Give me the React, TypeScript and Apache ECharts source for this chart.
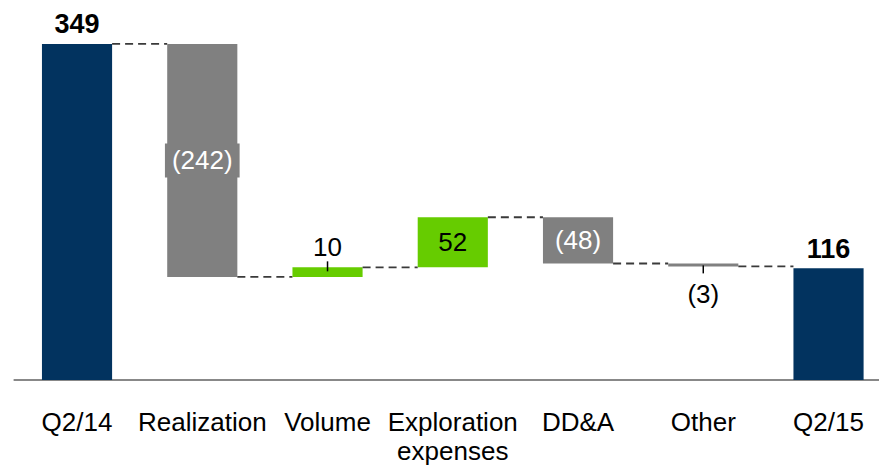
import React, { useEffect, useRef } from "react";
import * as echarts from "echarts";

// Operating result bridge, Q2/14 to Q2/15
const categories = ["Q2/14", "Realization", "Volume", "Exploration\nexpenses", "DD&A", "Other", "Q2/15"];
const values = [349, -242, 10, 52, -48, -3, 116];
const isTotal = [true, false, false, false, false, false, true];

const FONT = "'Liberation Sans', Arial, sans-serif";
const NAVY = "#02335F";
const GREEN = "#66CC00";
const GREY = "#808080";

// Build [index, low, high, end level] rows from the deltas
function buildRows() {
  let run = 0;
  return values.map((v, i) => {
    if (isTotal[i]) {
      run = v;
      return [i, 0, v, v];
    }
    const start = run;
    run = run + v;
    return [i, Math.min(start, run), Math.max(start, run), run];
  });
}

function fmt(v: number) {
  return v < 0 ? `(${Math.abs(v)})` : String(v);
}

export default function App() {
  const ref = useRef<HTMLDivElement>(null);

  useEffect(() => {
    if (!ref.current) return;
    const chart = echarts.init(ref.current, undefined, { renderer: "svg" });
    const rows = buildRows();

    const renderBar = (params: any, api: any) => {
      const i = params.dataIndex;
      const lo = api.value(1) as number;
      const hi = api.value(2) as number;
      const v = values[i];
      const slot = api.size([1, 0])[0];
      const w = slot * 0.56;
      const pTop = api.coord([i, hi]);
      const pBot = api.coord([i, lo]);
      const cx = pTop[0];
      const color = isTotal[i] ? NAVY : v >= 0 ? GREEN : GREY;
      const children: any[] = [
        {
          type: "rect",
          shape: { x: cx - w / 2, y: pTop[1], width: w, height: pBot[1] - pTop[1] },
          style: { fill: color },
        },
      ];

      // dashed connector to the next bar at this bar's end level
      if (i < values.length - 1) {
        const lvl = api.coord([i, rows[i][3]]);
        children.push({
          type: "line",
          shape: { x1: cx + w / 2, y1: lvl[1], x2: cx + slot - w / 2, y2: lvl[1] },
          style: { stroke: "#3a3a3a", lineWidth: 1.8, lineDash: [8, 5] },
        });
      }

      const small = Math.abs(v) < 20;
      if (isTotal[i]) {
        children.push({
          type: "text",
          style: {
            text: fmt(v), x: cx, y: pTop[1] - 6, align: "center", verticalAlign: "bottom",
            fontFamily: FONT, fontSize: 27, fontWeight: "bold", fill: "#000",
          },
        });
      } else if (small && v >= 0) {
        children.push({
          type: "line",
          shape: { x1: cx, y1: pTop[1] - 6, x2: cx, y2: pTop[1] + 4 },
          style: { stroke: "#000", lineWidth: 1.5 },
        });
        children.push({
          type: "text",
          style: {
            text: fmt(v), x: cx, y: pTop[1] - 7, align: "center", verticalAlign: "bottom",
            fontFamily: FONT, fontSize: 26, fill: "#000",
          },
        });
      } else if (small) {
        children.push({
          type: "line",
          shape: { x1: cx, y1: pBot[1] - 1, x2: cx, y2: pBot[1] + 7 },
          style: { stroke: "#000", lineWidth: 1.5 },
        });
        children.push({
          type: "text",
          style: {
            text: fmt(v), x: cx, y: pBot[1] + 15, align: "center", verticalAlign: "top",
            fontFamily: FONT, fontSize: 26, fill: "#000",
          },
        });
      } else {
        const midY = (pTop[1] + pBot[1]) / 2;
        children.push({
          type: "text",
          style: {
            text: fmt(v), x: cx, y: midY, align: "center", verticalAlign: "middle",
            fontFamily: FONT, fontSize: 26,
            fill: v >= 0 ? "#000" : "#fff",
            backgroundColor: v >= 0 ? undefined : GREY,
            padding: [4, 7],
          },
        });
      }
      return { type: "group", children };
    };

    chart.setOption({
      animation: false,
      grid: { left: 14.4, top: 32.4, width: 876.75, height: 350.6, containLabel: false },
      xAxis: {
        type: "category",
        data: categories,
        axisLine: { lineStyle: { color: "#888", width: 2 } },
        axisTick: { show: false },
        axisLabel: {
          interval: 0, margin: 27, color: "#000", fontFamily: FONT, fontSize: 26, lineHeight: 29,
        },
      },
      yAxis: { type: "value", min: 0, max: 361, show: false, splitLine: { show: false } },
      series: [
        {
          type: "custom",
          renderItem: renderBar,
          encode: { x: 0, y: [1, 2] },
          data: rows,
          clip: false,
        },
      ],
    });

    return () => chart.dispose();
  }, []);

  return (
    <div
      style={{
        position: "absolute", left: 0, top: 0, width: 879, height: 465,
        overflow: "hidden", background: "#fff",
      }}
    >
      <div ref={ref} style={{ width: 900, height: 465 }} />
    </div>
  );
}
